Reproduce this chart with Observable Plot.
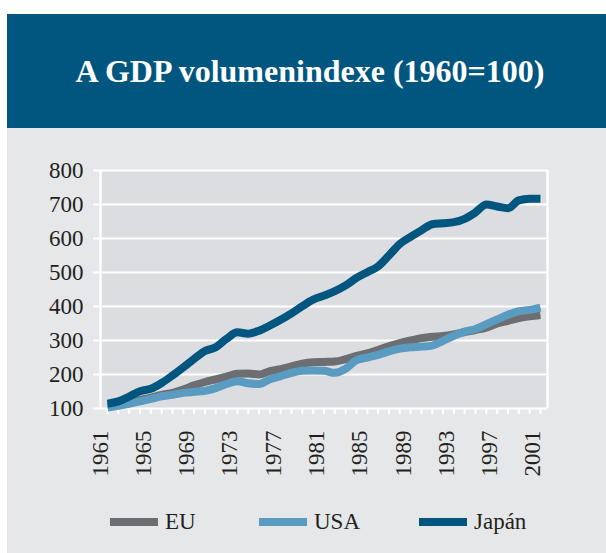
<!DOCTYPE html>
<html>
<head>
<meta charset="utf-8">
<script src="https://cdn.jsdelivr.net/npm/d3@7"></script>
<script src="https://cdn.jsdelivr.net/npm/@observablehq/plot@0.6"></script>
<style>
  html, body { margin: 0; padding: 0; background: #ffffff; }
  #wrap { position: relative; width: 606px; height: 553px; overflow: hidden; font-family: "Liberation Serif", serif; }
  #panel { position: absolute; left: 7px; top: 14px; width: 599px; height: 539px; background: #e6e7e9; }
  #title { position: absolute; left: 7px; top: 14px; width: 592px; padding-left: 7px; height: 114px; line-height: 114px;
           background: #00567f; color: #ffffff; text-align: center; font-weight: bold; font-size: 32px; }
  #chart { position: absolute; left: 7px; top: 128px; }
  #legend { position: absolute; left: 0; top: 508px; width: 606px; height: 28px; font-size: 23px; color: #231f20; }
  .item { position: absolute; top: 0; height: 28px; line-height: 28px; white-space: nowrap; }
  .sw { display: inline-block; width: 48px; height: 8px; vertical-align: middle; margin-right: 7px; position: relative; top: -2px; }
</style>
</head>
<body>
<div id="wrap">
  <div id="panel"></div>
  <div id="title">A GDP volumenindexe (1960=100)</div>
  <div id="chart"></div>
  <div id="legend"></div>
</div>
<script>
const years = [1961,1962,1963,1964,1965,1966,1967,1968,1969,1970,
               1971,1972,1973,1974,1975,1976,1977,1978,1979,1980,
               1981,1982,1983,1984,1985,1986,1987,1988,1989,1990,
               1991,1992,1993,1994,1995,1996,1997,1998,1999,2000,2001];
const eu    = [105,111,118,125,132,140,146,156,168,178,
               186,194,202,203,200,210,216,224,232,236,
               237,238,245,255,262,272,283,292,300,307,
               311,313,318,325,331,338,350,358,366,371,375];
const usa   = [103,108,114,121,128,136,140,146,149,152,
               160,172,180,174,172,186,195,205,211,212,
               211,205,217,242,250,258,268,276,280,282,
               285,299,314,326,334,348,362,376,386,390,397];
const japan = [114,121,135,151,158,175,197,221,246,269,
               280,305,324,320,329,344,361,380,401,420,
               432,445,462,484,501,518,550,584,605,624,
               642,645,648,658,677,700,694,689,712,717,717];
const seriesNames = ["EU", "USA", "Japán"];
const seriesColors = ["#6d6e71", "#5a9bc2", "#00567f"];
const yTicks = [100,200,300,400,500,600,700,800];
const xLabelYears = [1961,1965,1969,1973,1977,1981,1985,1989,1993,1997,2001];

const seriesValues = [eu, usa, japan];
const rows = [];
seriesNames.forEach((name, s) => {
  years.forEach((yr, i) => rows.push({series: name, year: yr, value: seriesValues[s][i]}));
});

const chart = Plot.plot({
  width: 599,
  height: 360,
  marginLeft: 93,
  marginRight: 59,
  marginTop: 42,
  marginBottom: 80,
  style: { fontFamily: "Liberation Serif", fontSize: "23px", color: "#231f20", background: "transparent" },
  x: { domain: [1960.35, 2001.65] },
  y: { domain: [100, 800] },
  color: { domain: seriesNames, range: seriesColors },
  marks: [
    Plot.frame({ fill: "#dcdde0" }),
    Plot.ruleY(yTicks, { stroke: "white", strokeWidth: 2, insetLeft: -7 }),
    Plot.ruleX([1960.35, 2001.65], { stroke: "white", strokeWidth: 2.5 }),
    Plot.axisX({ ticks: years, tickSize: 6, tickFormat: () => "", stroke: "white", strokeWidth: 2, label: null }),
    Plot.axisY({ ticks: yTicks, tickSize: 0, tickPadding: 17, label: null, fill: "#231f20" }),
    Plot.text(xLabelYears, { x: d => d, text: d => String(d), frameAnchor: "bottom", rotate: -90, textAnchor: "end", dy: 22, fill: "#231f20" }),
    Plot.line(rows, { x: "year", y: "value", z: "series", stroke: "series", strokeWidth: 8, strokeLinecap: "butt", strokeLinejoin: "round", curve: "monotone-x" })
  ]
});
document.getElementById("chart").appendChild(chart);

const legendPos = [110, 259, 419];
const legend = document.getElementById("legend");
seriesNames.forEach((name, i) => {
  const item = document.createElement("div");
  item.className = "item";
  item.style.left = legendPos[i] + "px";
  const sw = document.createElement("span");
  sw.className = "sw";
  sw.style.background = seriesColors[i];
  item.appendChild(sw);
  item.appendChild(document.createTextNode(name));
  legend.appendChild(item);
});
</script>
</body>
</html>
